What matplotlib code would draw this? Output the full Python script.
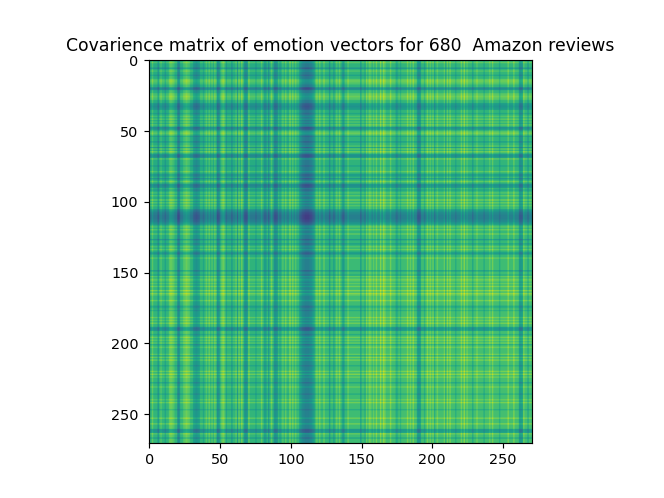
import numpy as np
import matplotlib
matplotlib.use("Agg")
import matplotlib.pyplot as plt

# === Data ===
# matrix size (rows = columns, symmetric covariance)
n_items = 271

# base level of each index range: (start, end, level)
base_levels = [(0, 100, 0.31), (100, 140, 0.32), (140, 160, 0.34), (160, 271, 0.35)]

# dark stripes (index, depth) - same for rows and columns
dark_stripes = [(6, 0.12), (11, 0.07), (20, 0.18), (21, 0.14), (31, 0.09),
                (32, 0.12), (33, 0.14), (34, 0.12), (35, 0.09), (38, 0.06),
                (48, 0.16), (49, 0.12), (54, 0.07), (58, 0.09), (62, 0.09),
                (67, 0.12), (68, 0.16), (69, 0.09), (75, 0.07), (81, 0.09),
                (82, 0.09), (84, 0.12), (88, 0.14), (89, 0.16), (90, 0.12),
                (92, 0.07), (106, 0.11), (107, 0.15), (108, 0.19), (109, 0.21),
                (110, 0.23), (111, 0.23), (112, 0.23), (113, 0.21), (114, 0.19),
                (115, 0.15), (116, 0.11), (127, 0.12), (130, 0.09), (136, 0.09),
                (137, 0.12), (149, 0.12), (152, 0.07), (174, 0.09), (175, 0.07),
                (177, 0.07), (189, 0.14), (190, 0.18), (191, 0.14), (194, 0.07),
                (201, 0.07), (209, 0.07), (216, 0.07), (228, 0.09), (236, 0.07),
                (247, 0.07), (261, 0.14), (262, 0.16), (263, 0.12), (267, 0.09)]

# bright stripes (index, height)
bright_stripes = [(2, 0.09), (8, 0.07), (14, 0.09), (15, 0.12), (16, 0.09),
                  (17, 0.07), (24, 0.07), (25, 0.09), (26, 0.12), (27, 0.09),
                  (28, 0.07), (40, 0.07), (42, 0.09), (44, 0.07), (46, 0.09),
                  (51, 0.09), (52, 0.12), (53, 0.07), (61, 0.07), (63, 0.09),
                  (65, 0.12), (70, 0.09), (79, 0.09), (86, 0.09), (94, 0.07),
                  (96, 0.09), (99, 0.12), (101, 0.09), (103, 0.07), (118, 0.07),
                  (120, 0.09), (123, 0.09), (132, 0.07), (134, 0.09), (140, 0.07),
                  (153, 0.07), (155, 0.09), (156, 0.07), (158, 0.07), (160, 0.09),
                  (163, 0.12), (165, 0.12), (166, 0.07), (170, 0.09), (182, 0.09),
                  (184, 0.07), (186, 0.09), (196, 0.09), (198, 0.07), (200, 0.07),
                  (203, 0.07), (208, 0.07), (210, 0.09), (212, 0.09), (220, 0.09),
                  (222, 0.12), (224, 0.07), (231, 0.07), (240, 0.07), (242, 0.09),
                  (253, 0.09), (257, 0.09), (264, 0.07)]

# === Build the profile and the matrix ===
profile = np.zeros(n_items)
for start, end, level in base_levels:
    profile[start:end] = level
for idx, depth in dark_stripes:
    profile[idx] -= depth
for idx, height in bright_stripes:
    profile[idx] += height

cov = profile[:, None] + profile[None, :]

# === Plot ===
fig = plt.figure(figsize=(6.4, 4.8), dpi=103.75)
plt.imshow(cov, cmap="viridis", vmin=0.0, vmax=1.0)
plt.title("Covarience matrix of emotion vectors for 680  Amazon reviews")
plt.savefig("out.png", dpi=103.75)
